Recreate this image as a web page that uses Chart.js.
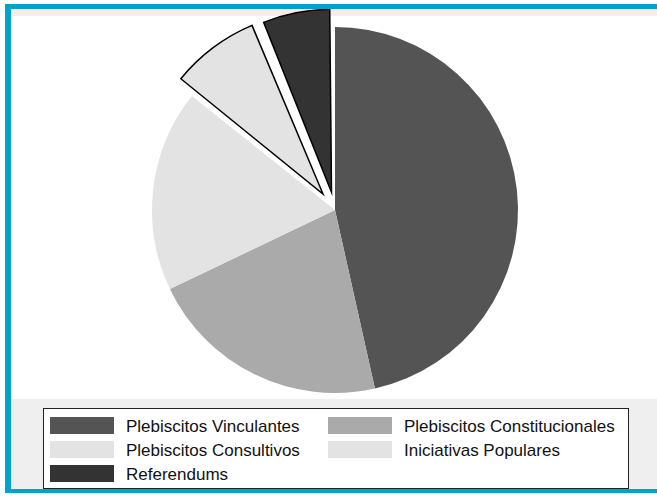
<!DOCTYPE html>
<html>
<head>
<meta charset="utf-8">
<script src="https://cdn.jsdelivr.net/npm/chart.js@4.4.0/dist/chart.umd.min.js"></script>
<style>
  html, body { margin: 0; padding: 0; background: #fff; }
  body { width: 657px; height: 497px; position: relative; overflow: hidden;
         font-family: "Liberation Sans", Arial, sans-serif; }
  #frame { position: absolute; left: 5px; top: 4px; width: 646px; height: 480px;
           background: #efefef; border-left: 6px solid #02a2c9;
           border-top: 5px solid #02a2c9; border-bottom: 4px solid #02a2c9; }
  #plot { position: absolute; left: 11px; top: 16px; width: 646px; height: 383px; background: #fff; }
  #wrap { position: absolute; left: 11px; top: 9px; width: 646px; height: 390px; }
  #legend { position: absolute; left: 43px; top: 408px; width: 586px; height: 81px;
            box-sizing: border-box; border: 1px solid #222; background: #fff; }
  .item { position: absolute; height: 17px; }
  .swatch { position: absolute; left: 0; top: 0; width: 64px; height: 17px; }
  .label { position: absolute; left: 76px; top: 1px; font-size: 17px; line-height: 17px;
           white-space: nowrap; color: #111; }
</style>
</head>
<body>
<div id="frame"></div>
<div id="plot"></div>
<div id="wrap"><canvas id="pie" width="646" height="390"></canvas></div>
<div id="legend"></div>
<script>
// categorias y valores (%)
const labels = ['Plebiscitos Vinculantes', 'Plebiscitos Constitucionales', 'Plebiscitos Consultivos', 'Iniciativas Populares', 'Referendums'];
const values = [46.5, 21.4, 17.8, 8.1, 6.2];
const colors = ['#545454', '#aaaaaa', '#e3e3e3', '#e3e3e3', '#333333'];
const explode = [0, 0, 0, 80, 72];
const borders = [0, 0, 0, 1.5, 1.5];

// chart.js agranda el radio de los sectores separados; se deja igual que el resto
const keepRadius = {
    id: 'keepRadius',
    afterDatasetsUpdate(chart) {
        const meta = chart.getDatasetMeta(0);
        const R = meta.controller.outerRadius;
        meta.data.forEach((arc, i) => {
            const fix = 1 - Math.sin(Math.min(Math.PI, arc.circumference));
            arc.outerRadius = R - (explode[i] / 4) * fix;
        });
    }
};

const ctx = document.getElementById('pie').getContext('2d');
const pieChart = new Chart(ctx, {
    type: 'pie',
    data: {
        labels: labels,
        datasets: [{
            data: values,
            backgroundColor: colors,
            borderColor: '#000',
            borderWidth: borders,
            borderJoinStyle: 'miter',
            offset: explode,
            clip: false
        }]
    },
    options: {
        responsive: false,
        animation: false,
        radius: 183,
        layout: { padding: { left: 2, top: 12, right: 0, bottom: 0 } },
        plugins: {
            legend: { display: false },
            tooltip: { enabled: false }
        }
    },
    plugins: [keepRadius]
});

// leyenda en dos columnas
const legend = document.getElementById('legend');
labels.forEach((name, i) => {
    const col = i % 2, row = Math.floor(i / 2);
    const item = document.createElement('div');
    item.className = 'item';
    item.style.left = (col ? 284 : 6) + 'px';
    item.style.top = (8 + row * 24) + 'px';
    item.innerHTML = `<div class="swatch" style="background:${colors[i]}"></div><div class="label">${name}</div>`;
    legend.appendChild(item);
});
</script>
</body>
</html>
